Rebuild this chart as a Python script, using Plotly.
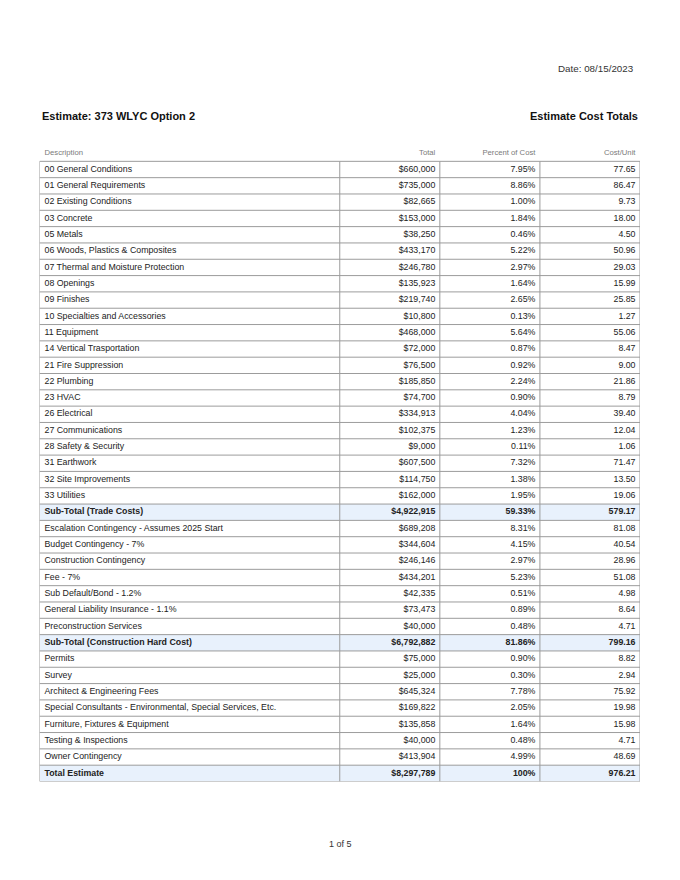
import plotly.graph_objects as go

descriptions = [
    "00 General Conditions", "01 General Requirements", "02 Existing Conditions", "03 Concrete",
    "05 Metals", "06 Woods, Plastics & Composites", "07 Thermal and Moisture Protection",
    "08 Openings", "09 Finishes", "10 Specialties and Accessories", "11 Equipment",
    "14 Vertical Trasportation", "21 Fire Suppression", "22 Plumbing", "23 HVAC",
    "26 Electrical", "27 Communications", "28 Safety & Security", "31 Earthwork",
    "32 Site Improvements", "33 Utilities", "Sub-Total (Trade Costs)",
    "Escalation Contingency - Assumes 2025 Start", "Budget Contingency - 7%",
    "Construction Contingency", "Fee - 7%", "Sub Default/Bond - 1.2%",
    "General Liability Insurance - 1.1%", "Preconstruction Services",
    "Sub-Total (Construction Hard Cost)", "Permits", "Survey", "Architect & Engineering Fees",
    "Special Consultants - Environmental, Special Services, Etc.", "Furniture, Fixtures & Equipment",
    "Testing & Inspections", "Owner Contingency", "Total Estimate",
]
totals = [
    660000, 735000, 82665, 153000, 38250, 433170, 246780, 135923, 219740, 10800, 468000,
    72000, 76500, 185850, 74700, 334913, 102375, 9000, 607500, 114750, 162000, 4922915,
    689208, 344604, 246146, 434201, 42335, 73473, 40000, 6792882,
    75000, 25000, 645324, 169822, 135858, 40000, 413904, 8297789,
]
percents = [
    "7.95%", "8.86%", "1.00%", "1.84%", "0.46%", "5.22%", "2.97%", "1.64%", "2.65%", "0.13%",
    "5.64%", "0.87%", "0.92%", "2.24%", "0.90%", "4.04%", "1.23%", "0.11%", "7.32%", "1.38%",
    "1.95%", "59.33%", "8.31%", "4.15%", "2.97%", "5.23%", "0.51%", "0.89%", "0.48%", "81.86%",
    "0.90%", "0.30%", "7.78%", "2.05%", "1.64%", "0.48%", "4.99%", "100%",
]
cost_per_unit = [
    77.65, 86.47, 9.73, 18.00, 4.50, 50.96, 29.03, 15.99, 25.85, 1.27, 55.06, 8.47, 9.00,
    21.86, 8.79, 39.40, 12.04, 1.06, 71.47, 13.50, 19.06, 579.17, 81.08, 40.54, 28.96, 51.08,
    4.98, 8.64, 4.71, 799.16, 8.82, 2.94, 75.92, 19.98, 15.98, 4.71, 48.69, 976.21,
]
header_labels = ["Description", "Total", "Percent of Cost", "Cost/Unit"]
bold_rows = ["Sub-Total (Trade Costs)", "Sub-Total (Construction Hard Cost)", "Total Estimate"]

# ---- styling / layout ----
W, H = 680, 880
FONT = "Liberation Sans, Arial, sans-serif"
col_edges = [0, 300, 400, 500, 600]
PAD = 5
BORDER = "#9c9c9c"
FILL = "#e8f1fc"
TXT = "#222222"

n = len(descriptions)
rows = list(range(n))


def b(s, desc):
    return f"<b>{s}</b>" if desc in bold_rows else s


col_desc = [b(d, d) for d in descriptions]
col_total = [b(f"${v:,.0f}", d) for v, d in zip(totals, descriptions)]
col_pct = [b(p, d) for p, d in zip(percents, descriptions)]
col_cpu = [b(f"{v:.2f}", d) for v, d in zip(cost_per_unit, descriptions)]
columns = [col_desc, col_total, col_pct, col_cpu]

fig = go.Figure()

# highlighted sub-total rows
hi_rows = [i for i, d in enumerate(descriptions) if d in bold_rows]
fig.add_trace(go.Bar(
    y=hi_rows, x=[col_edges[-1] - col_edges[0]] * len(hi_rows), base=col_edges[0],
    orientation="h", width=1, marker=dict(color=FILL, line=dict(width=0)),
    hoverinfo="skip", showlegend=False,
))

# cell borders
bx, by = [], []
for i in range(n + 1):
    bx += [col_edges[0], col_edges[-1], None]
    by += [i - 0.5, i - 0.5, None]
for e in col_edges:
    bx += [e, e, None]
    by += [-0.5, n - 0.5, None]
fig.add_trace(go.Scatter(
    x=bx, y=by, mode="lines", line=dict(color=BORDER, width=1),
    hoverinfo="skip", showlegend=False,
))

# header + cell text
for c, (label, values) in enumerate(zip(header_labels, columns)):
    if c == 0:
        xpos, tpos = col_edges[c] + PAD, "middle right"
    else:
        xpos, tpos = col_edges[c + 1] - PAD + 0.5, "middle left"
    fig.add_trace(go.Scatter(
        x=[xpos], y=[-1], mode="text", text=[label], textposition=tpos,
        textfont=dict(family=FONT, size=7.7, color="#7a7a7a"),
        hoverinfo="skip", showlegend=False, cliponaxis=False,
    ))
    fig.add_trace(go.Scatter(
        x=[xpos] * n, y=rows, mode="text", text=values, textposition=tpos,
        textfont=dict(family=FONT, size=8.8, color=TXT),
        hoverinfo="skip", showlegend=False, cliponaxis=False,
    ))

y_bottom_px, row_px = 781.5, 16.32
y_top_px = y_bottom_px - (n + 1) * row_px
fig.update_layout(
    width=W, height=H,
    margin=dict(l=0, r=0, t=0, b=0),
    paper_bgcolor="white", plot_bgcolor="white",
    font=dict(family=FONT, color=TXT),
    bargap=0,
    xaxis=dict(range=[col_edges[0], col_edges[-1]], domain=[39.5 / W, 640 / W],
               visible=False, fixedrange=True),
    yaxis=dict(range=[n - 0.5, -1.5], domain=[1 - y_bottom_px / H, 1 - y_top_px / H],
               visible=False, fixedrange=True),
    annotations=[
        dict(text="Date: 08/15/2023", x=636 / W, y=1 - 68.5 / H, xref="paper", yref="paper",
             xanchor="right", yanchor="middle", showarrow=False, font=dict(size=9.8, color="#333333")),
        dict(text="<b>Estimate: 373 WLYC Option 2</b>", x=40 / W, y=1 - 116 / H, xref="paper", yref="paper",
             xanchor="left", yanchor="middle", showarrow=False, font=dict(size=11, color="#111111")),
        dict(text="<b>Estimate Cost Totals</b>", x=640 / W, y=1 - 116 / H, xref="paper", yref="paper",
             xanchor="right", yanchor="middle", showarrow=False, font=dict(size=11, color="#111111")),
        dict(text="1 of 5", x=340 / W, y=1 - 844 / H, xref="paper", yref="paper",
             xanchor="center", yanchor="middle", showarrow=False, font=dict(size=9, color="#333333")),
    ],
)

fig.write_html("out.html", config={"displayModeBar": False},
               post_script="document.body.style.margin='0';")
